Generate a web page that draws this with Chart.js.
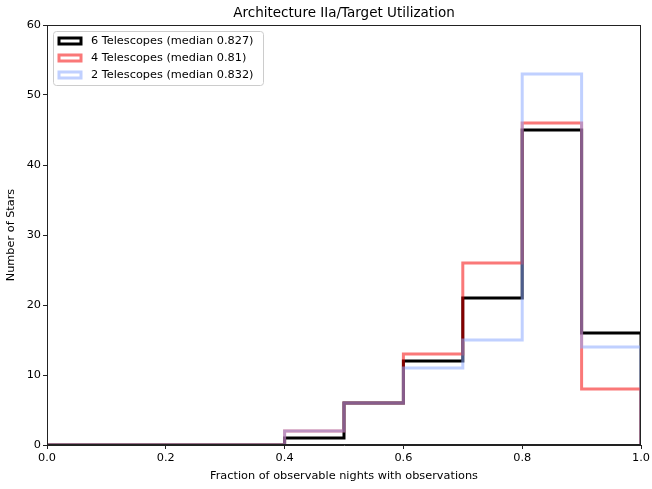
<!DOCTYPE html>
<html><head><meta charset="utf-8">
<script src="https://cdn.jsdelivr.net/npm/chart.js@4/dist/chart.umd.min.js"></script>
<style>html,body{margin:0;padding:0;background:#fff}#w{width:652px;height:489px}</style>
</head><body><div id="w"><canvas id="c"></canvas></div>
<script>
const binEdges = [0.0,0.1,0.2,0.3,0.4,0.5,0.6,0.7,0.8,0.9,1.0];
const seriesLabels = ['6 Telescopes (median 0.827)','4 Telescopes (median 0.81)','2 Telescopes (median 0.832)'];
const counts6 = [0,0,0,0,1,6,12,21,45,16];
const counts4 = [0,0,0,0,2,6,13,26,46,8];
const counts2 = [0,0,0,0,2,6,11,15,53,14];
const xTicks = [0,0.2,0.4,0.6,0.8,1.0];
const yTicks = [0,10,20,30,40,50,60];

function stepPoints(counts){
  const pts = counts.map((c,i)=>({x:binEdges[i], y:c}));
  pts.push({x:binEdges[binEdges.length-1], y:0});
  return pts;
}
const FONT = 'DejaVu Sans';
const colors = ['#000000','rgba(245,0,0,0.53)','rgba(140,170,255,0.55)'];
const allCounts = [counts6,counts4,counts2];

const framePlugin = {
  id:'frame',
  afterDatasetsDraw(chart){
    const {ctx, chartArea:a} = chart;
    ctx.save();
    ctx.strokeStyle='#222'; ctx.lineWidth=1;
    ctx.strokeRect(a.left+0.5,a.top+0.5,a.right-a.left-1,a.bottom-a.top-1);
    ctx.fillStyle='#000'; ctx.font='13.5px "'+FONT+'"'; ctx.textAlign='center'; ctx.textBaseline='bottom';
    ctx.fillText('Architecture IIa/Target Utilization',(a.left+a.right)/2,a.top-5);
    const lx=53, ly=31, lw=210, lh=54;
    ctx.fillStyle='rgba(255,255,255,0.8)';
    ctx.strokeStyle='#cccccc'; ctx.lineWidth=1;
    ctx.beginPath();
    if(ctx.roundRect) ctx.roundRect(lx+0.5,ly+0.5,lw,lh,3); else ctx.rect(lx+0.5,ly+0.5,lw,lh);
    ctx.fill(); ctx.stroke();
    ctx.font='11.3px "'+FONT+'"'; ctx.textAlign='left'; ctx.textBaseline='middle';
    chart.data.datasets.forEach((d,i)=>{
      const cy = 41 + i*17;
      ctx.strokeStyle=d.borderColor; ctx.lineWidth=3;
      ctx.strokeRect(59,cy-3,22,6);
      ctx.fillStyle='#000';
      ctx.fillText(d.label,91,cy+0.5);
    });
    ctx.restore();
  }
};

new Chart(document.getElementById('c'),{
  type:'line',
  data:{datasets: allCounts.map((c,i)=>({
    label:seriesLabels[i], data:stepPoints(c), stepped:'before', order:2-i,
    borderColor:colors[i], borderWidth:3, pointRadius:0, fill:false,
    borderJoinStyle:'miter', borderCapStyle:'butt'
  }))},
  options:{
    responsive:true, maintainAspectRatio:false, animation:false,
    layout:{padding:{top:25,right:11,left:0,bottom:0}},
    plugins:{legend:{display:false},title:{display:false},tooltip:{enabled:false}},
    scales:{
      x:{type:'linear',min:0,max:1,
        afterBuildTicks(s){s.ticks=xTicks.map(v=>({value:v}));},
        afterFit(s){s.height=44;},
        grid:{drawOnChartArea:false,drawTicks:true,tickLength:4,color:'#222'},
        border:{display:true,color:'#222'},
        ticks:{color:'#000',font:{family:FONT,size:11.3},padding:2,maxRotation:0,callback:v=>v.toFixed(1)},
        title:{display:true,text:'Fraction of observable nights with observations',color:'#000',font:{family:FONT,size:11.3},padding:{top:2,bottom:6}}
      },
      y:{min:0,max:60,
        afterBuildTicks(s){s.ticks=yTicks.map(v=>({value:v}));},
        afterFit(s){s.width=47;},
        grid:{drawOnChartArea:false,drawTicks:true,tickLength:4,color:'#222'},
        border:{display:true,color:'#222'},
        ticks:{color:'#000',font:{family:FONT,size:11.3},padding:2},
        title:{display:true,text:'Number of Stars',color:'#000',font:{family:FONT,size:11.3},padding:{top:4,bottom:2}}
      }
    }
  },
  plugins:[framePlugin]
});
</script></body></html>
